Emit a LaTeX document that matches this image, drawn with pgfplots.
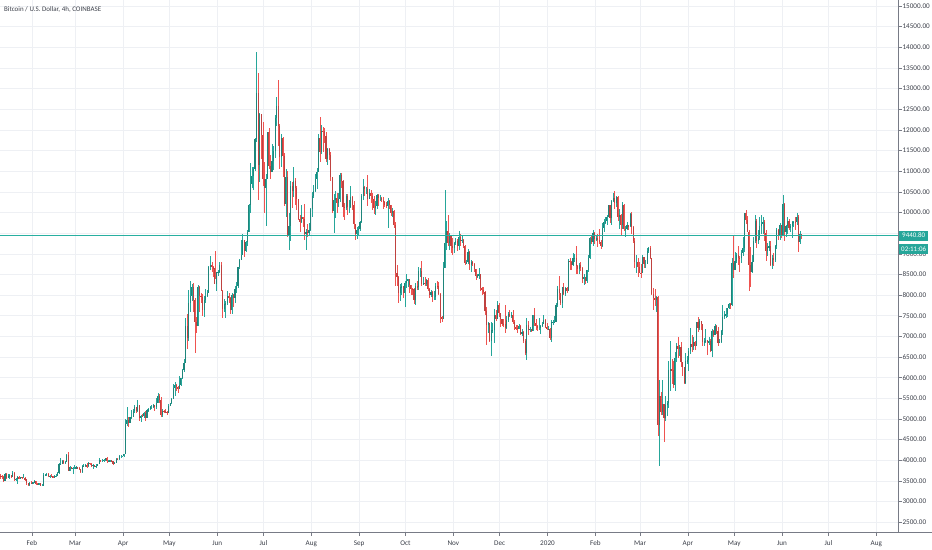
\documentclass[border=0pt]{standalone}
\usepackage{fontspec}
\setmainfont{Carlito}
\usepackage{pgfplots}
\usepackage{pgfplotstable}
\pgfplotsset{compat=1.18}
\definecolor{upc}{HTML}{26A69A}
\definecolor{dnc}{HTML}{EF5350}
\definecolor{gridc}{HTML}{EEF0F4}
\definecolor{axc}{HTML}{787B86}
\definecolor{txtc}{HTML}{3A3E48}
\definecolor{pricec}{HTML}{26A69A}
\definecolor{plinec}{RGB}{40,175,160}

\pgfplotstableread{
o h l c
3630 3680 3550 3625
3625 3640 3560 3600
3600 3615 3480 3500
3500 3700 3490 3665
3665 3690 3550 3570
3570 3680 3565 3610
3610 3660 3560 3640
3640 3645 3570 3600
3600 3740 3590 3700
3700 3720 3500 3540
3540 3580 3510 3560
3560 3620 3430 3590
3590 3620 3540 3560
3560 3600 3540 3590
3590 3600 3540 3580
3580 3660 3570 3580
3580 3600 3510 3540
3540 3545 3400 3440
3440 3450 3370 3400
3400 3480 3390 3460
3460 3490 3430 3440
3440 3480 3420 3465
3465 3515 3440 3500
3500 3505 3400 3420
3420 3440 3400 3410
3410 3450 3400 3440
3440 3450 3370 3390
3390 3420 3380 3390
3390 3700 3380 3650
3650 3670 3630 3655
3655 3690 3610 3680
3680 3685 3600 3620
3620 3640 3580 3625
3625 3660 3590 3610
3610 3620 3570 3590
3590 3650 3590 3610
3610 3660 3600 3630
3630 3720 3610 3690
3690 3930 3680 3900
3900 4050 3880 3920
3920 4000 3900 3990
3990 4000 3900 3940
3940 3990 3920 3970
3970 4160 3960 4120
4120 4200 3740 3750
3750 3860 3740 3830
3830 3840 3780 3810
3810 3840 3680 3820
3820 3890 3800 3820
3820 3870 3810 3830
3830 3840 3780 3820
3820 3830 3760 3790
3790 3800 3700 3710
3710 3880 3700 3860
3860 3900 3830 3870
3870 3910 3850 3880
3880 3940 3820 3860
3860 3950 3850 3940
3940 3945 3890 3920
3920 3930 3830 3870
3870 3900 3800 3880
3880 3890 3840 3860
3860 3920 3820 3870
3870 3920 3860 3910
3910 4050 3900 4020
4020 4020 3960 3990
3990 4040 3960 3990
3990 4030 3970 4020
4020 4060 3990 4050
4050 4070 3940 3980
3980 4000 3960 3990
3990 4010 3980 4000
4000 4000 3960 3980
3980 3990 3880 3920
3920 3950 3900 3940
3940 4060 3930 4040
4040 4050 4010 4030
4030 4120 4020 4100
4100 4130 4060 4100
4100 4110 4090 4100
4100 4160 4080 4150
4150 5000 4150 4880
4880 5300 4830 4970
4970 5060 4800 4910
4910 5060 4900 5040
5040 5230 5000 5060
5060 5250 5050 5200
5200 5340 5150 5290
5290 5300 5150 5200
5200 5470 5170 5330
5330 5350 4950 5020
5020 5100 4920 5080
5080 5120 5040 5070
5070 5170 5030 5150
5150 5190 4960 5030
5030 5240 5020 5210
5210 5270 5180 5240
5240 5320 5230 5290
5290 5350 5240 5290
5290 5360 5270 5330
5330 5350 5190 5290
5290 5500 5250 5400
5400 5630 5380 5550
5550 5600 5400 5450
5450 5530 5050 5100
5100 5250 5060 5200
5200 5230 5150 5190
5190 5240 5150 5170
5170 5200 5100 5150
5150 5360 5140 5320
5320 5390 5310 5380
5380 5510 5370 5490
5490 5850 5480 5750
5750 5900 5550 5830
5830 5850 5680 5770
5770 5800 5640 5730
5730 6050 5720 5830
5830 6000 5810 5990
5990 6200 5980 6180
6180 6450 6130 6350
6350 7450 6350 7250
7250 7550 6700 6960
6960 8130 6880 7800
7800 8330 7600 7980
7980 8270 7860 8200
8200 8290 7600 7880
7880 7940 6600 7350
7350 7460 7080 7260
7260 8250 7250 8200
8200 8210 7580 7990
7990 8040 7800 7950
7950 8030 7500 7630
7630 7970 7480 7880
7880 8150 7800 7990
7990 8130 7950 8060
8060 8700 8040 8690
8690 8940 8600 8740
8740 8800 8560 8670
8670 8700 8450 8660
8660 9080 8400 8270
8270 8570 8100 8550
8550 8620 8470 8560
8560 8790 8530 8730
8730 8810 8100 8110
8110 8120 7450 7670
7670 7900 7580 7790
7790 7860 7450 7800
7800 8100 7750 7990
7990 8040 7820 7930
7930 7950 7550 7630
7630 8060 7540 8010
8010 8020 7720 7920
7920 8230 7820 8150
8150 8320 8040 8230
8230 8690 8170 8690
8690 8870 8640 8850
8850 9330 8850 8970
8970 9470 8960 9330
9330 9340 8930 9080
9080 9300 9050 9280
9280 9580 9200 9530
9530 10200 9530 10190
10190 11200 10000 10700
10700 11100 10600 10880
10880 11100 10550 11050
11050 11800 11000 11780
11780 13880 11700 12900
12900 13380 10300 11140
11140 12400 10750 12380
12380 12380 11300 11880
11880 12200 10650 10800
10800 11230 9990 10590
10590 10940 9680 10800
10800 11950 10800 11950
11950 12050 11060 11130
11130 11400 10800 10980
10980 11650 10980 11250
11250 11600 11020 11480
11480 12350 11330 12300
12300 12800 12100 12570
12570 13200 11600 12100
12100 12150 11050 11350
11350 11900 11100 11800
11800 11830 10850 11380
11380 11450 10150 10200
10200 11050 9880 10860
10860 11000 9400 9420
9420 9990 9100 9680
9680 10770 9300 10640
10640 10750 10100 10530
10530 11100 10370 10760
10760 10830 10170 10590
10590 10650 10070 10330
10330 10330 9830 9850
9850 9930 9540 9780
9780 10190 9740 9880
9880 9900 9650 9850
9850 10200 9340 9480
9480 9600 9100 9540
9540 9720 9400 9510
9510 9740 9420 9580
9580 10110 9560 10080
10080 10500 9880 10400
10400 10670 10350 10530
10530 10930 10500 10820
10820 11080 10580 10980
10980 11900 10970 11800
11800 12320 11230 11470
11470 12130 11420 11980
11980 12060 11460 11970
11970 12050 11690 11860
11860 11950 11230 11290
11290 11560 11140 11540
11540 11570 11260 11390
11390 11470 10770 10850
10850 10870 10000 10030
10030 10440 9500 10300
10300 10520 9860 10360
10360 10470 9990 10220
10220 10480 10140 10320
10320 10950 10250 10920
10920 10950 10600 10760
10760 10790 9900 10130
10130 10240 9820 10120
10120 10440 10060 10400
10400 10440 9940 10140
10140 10300 10000 10140
10140 10650 10120 10370
10370 10400 10070 10180
10180 10280 9610 9720
9720 9730 9330 9490
9490 9650 9350 9580
9580 9680 9430 9600
9600 9800 9550 9760
9760 10440 9750 10390
10390 10800 10300 10620
10620 10650 10400 10580
10580 10620 10460 10580
10580 10920 10150 10320
10320 10570 10320 10480
10480 10540 10230 10390
10390 10480 10050 10320
10320 10390 9970 10100
10100 10290 9950 10160
10160 10450 10080 10420
10420 10440 10160 10360
10360 10420 10290 10360
10360 10380 10260 10310
10310 10380 10080 10260
10260 10280 10140 10190
10190 10260 10110 10160
10160 10350 9620 10280
10280 10300 10080 10170
10170 10190 9920 9990
9990 10100 9900 10030
10030 10060 9630 9700
9700 9780 8220 8530
8530 8730 8230 8430
8430 8460 7800 8060
8060 8270 7850 8190
8190 8300 8000 8210
8210 8220 7920 8040
8040 8340 7720 8300
8300 8500 8180 8340
8340 8400 8200 8390
8390 8400 8060 8240
8240 8250 8010 8160
8160 8170 8000 8150
8150 8180 7780 7870
7870 8300 7760 8210
8210 8330 8120 8190
8190 8680 8120 8590
8590 8650 8450 8590
8590 8820 8220 8260
8260 8430 8260 8300
8300 8450 8230 8280
8280 8400 8230 8370
8370 8420 8110 8160
8160 8180 7940 8000
8000 8120 7960 8080
8080 8100 7840 7960
7960 8100 7880 7960
7960 8290 7880 8230
8230 8330 8160 8220
8220 8310 8000 8030
8030 8050 7330 7470
7470 7500 7360 7430
7430 8800 7420 8660
8660 10540 8660 9260
9260 9800 9100 9550
9550 9950 9200 9250
9250 9500 9090 9430
9430 9440 9010 9180
9180 9390 8960 9150
9150 9290 9030 9250
9250 9390 9210 9300
9300 9370 9080 9200
9200 9550 9100 9400
9400 9470 9180 9320
9320 9420 9250 9340
9340 9370 9150 9200
9200 9220 8720 8770
8770 8850 8770 8800
8800 9120 8760 9040
9040 9060 8600 8720
8720 8860 8560 8810
8810 8830 8700 8760
8760 8780 8570 8630
8630 8640 8370 8460
8460 8520 8420 8480
8480 8650 8400 8500
8500 8510 8090 8170
8170 8200 8000 8120
8120 8200 8030 8080
8080 8110 7520 7620
7620 7710 6800 7280
7280 7360 7090 7320
7320 7330 6870 6900
6900 7350 6520 7150
7150 7330 7080 7160
7160 7660 6850 7520
7520 7640 7370 7430
7430 7860 7410 7750
7750 7810 7470 7560
7560 7560 7230 7410
7410 7430 7250 7310
7310 7420 7240 7300
7300 7750 7080 7200
7200 7490 7170 7400
7400 7580 7360 7540
7540 7630 7480 7510
7510 7590 7450 7530
7530 7630 7310 7350
7350 7400 7160 7220
7220 7280 7150 7200
7200 7270 7080 7190
7190 7300 7180 7250
7250 7270 7030 7070
7070 7190 7020 7110
7110 7130 6850 6880
6880 6940 6560 6610
6610 7440 6430 7280
7280 7370 7040 7150
7150 7220 7100 7190
7190 7190 7110 7140
7140 7520 7130 7510
7510 7690 7260 7320
7320 7420 7160 7250
7250 7270 7140 7200
7200 7440 7160 7200
7200 7270 7060 7250
7250 7360 7240 7310
7310 7520 7300 7390
7390 7420 7200 7220
7220 7330 7150 7170
7170 7250 7150 7180
7180 7200 6920 6950
6950 7400 6860 7340
7340 7400 7280 7350
7350 7500 7330 7360
7360 7800 7360 7760
7760 8210 7720 8150
8150 8460 7870 8050
8050 8050 7760 7820
7820 8200 7680 8190
8190 8290 8000 8020
8020 8190 7980 8180
8180 8190 8060 8110
8110 8880 8100 8820
8820 8900 8600 8810
8810 8820 8610 8720
8720 9010 8700 8900
8900 9000 8800 8910
8910 9200 8500 8700
8700 8730 8520 8630
8630 8770 8500 8740
8740 8800 8580 8660
8660 8670 8300 8390
8390 8520 8240 8430
8430 8440 8270 8340
8340 8600 8300 8600
8600 8980 8570 8900
8900 9400 8880 9390
9390 9430 9230 9290
9290 9570 9200 9500
9500 9520 9230 9350
9350 9440 9310 9390
9390 9470 9170 9340
9340 9600 9230 9290
9290 9340 9110 9180
9180 9750 9170 9620
9620 9850 9540 9760
9760 9880 9720 9800
9800 9950 9690 9900
9900 10170 9880 10170
10170 10180 9740 9860
9860 10300 9700 10270
10270 10480 10250 10360
10360 10520 10090 10240
10240 10400 10130 10370
10370 10390 9800 9900
9900 10080 9600 9930
9930 9960 9450 9700
9700 10250 9600 10180
10180 10200 9560 9600
9600 9670 9400 9610
9610 9780 9570 9690
9690 9700 9570 9670
9670 9990 9650 9960
9960 10020 9480 9660
9660 9670 9270 9310
9310 9380 8650 8790
8790 8970 8540 8790
8790 8890 8440 8680
8680 8800 8530 8540
8540 8750 8420 8530
8530 8970 8530 8920
8920 8920 8660 8760
8760 8850 8660 8760
8760 9150 8760 9070
9070 9170 9010 9150
9150 9200 8870 8900
8900 8900 8000 8030
8030 8180 7630 7940
7940 8150 7740 7890
7890 7970 7590 7950
7950 7970 4600 4850
4850 5950 3858 5560
5560 5650 5100 5170
5170 5950 5100 5360
5360 5370 4440 5020
5020 5560 4960 5330
5330 5430 5070 5400
5400 6400 5260 6180
6180 6900 5670 6200
6200 6450 5860 6190
6190 6400 5750 5830
5830 6620 5690 6480
6480 6850 6380 6770
6770 6980 6480 6690
6690 6790 6530 6740
6740 6870 6260 6370
6370 6380 6030 6260
6260 6270 5860 5880
5880 6600 5860 6400
6400 6520 6330 6420
6420 6710 6160 6640
6640 7200 6580 6810
6810 7040 6630 6740
6740 6990 6680 6860
6860 6880 6680 6770
6770 7360 6770 7340
7340 7470 7100 7200
7200 7420 7160 7370
7370 7380 7150 7300
7300 7300 6770 6860
6860 6950 6780 6890
6890 7190 6830 6910
6910 6920 6560 6860
6860 6990 6800 6880
6880 6940 6620 6640
6640 7190 6500 7120
7120 7150 6990 7030
7030 7300 7030 7260
7260 7270 7060 7130
7130 7220 6780 6850
6850 6940 6830 6860
6860 7150 6850 7120
7120 7750 7040 7480
7480 7620 7410 7510
7510 7700 7450 7540
7540 7700 7480 7700
7700 7800 7660 7780
7780 7800 7660 7760
7760 8890 7740 8780
8780 9460 8420 8620
8620 9050 8620 8830
8830 9010 8770 8970
8970 9190 8720 8900
8900 8950 8550 8890
8890 9100 8780 9030
9030 9400 8940 9150
9150 9990 9050 9990
9990 10050 9720 9810
9810 9920 9530 9540
9540 9580 8100 8720
8720 9170 8200 8570
8570 8970 8530 8810
8810 9400 8800 9310
9310 9930 9260 9790
9790 9850 9130 9310
9310 9580 9240 9380
9380 9890 9340 9670
9670 9950 9480 9730
9730 9900 9470 9780
9780 9830 9300 9510
9510 9570 8830 9060
9060 9270 8950 9170
9170 9310 9080 9180
9180 9300 8700 8720
8720 8980 8640 8900
8900 9010 8700 8840
8840 9220 8810 9200
9200 9620 9110 9570
9570 9600 9340 9430
9430 9740 9330 9700
9700 9700 9380 9450
9450 10430 9420 10200
10200 10230 9300 9520
9520 9690 9400 9670
9670 9880 9470 9790
9790 9850 9580 9620
9620 9730 9530 9670
9670 9800 9380 9760
9760 9800 9640 9780
9780 9880 9580 9770
9770 9990 9690 9880
9880 9950 9050 9280
9280 9560 9240 9470
9470 9480 9350 9440
}\btc
\pgfplotstablecreatecol[expr={\pgfplotstablerow+10}]{d}\btc

\begin{document}
\begin{tikzpicture}
\useasboundingbox (0,0) rectangle (932bp,550bp);
\begin{axis}[
  at={(0,18bp)}, anchor=south west, scale only axis,
  width=898bp, height=532bp,
  xmin=10.27, xmax=592.1, ymin=2265, ymax=15145,
  axis x line*=bottom, axis y line*=right,
  axis line style={draw=axc, line width=0.6bp, -},
  tick align=outside, major tick length=4bp,
  tick style={draw=axc, line width=0.5bp},
  grid=major, major grid style={draw=gridc, line width=0.6bp},
  xtick={31,59,90,120,151,181,212,243,273,304,334,365,396,425,456,486,517,547,578},
  xticklabels={Feb,Mar,Apr,May,Jun,Jul,Aug,Sep,Oct,Nov,Dec,2020,Feb,Mar,Apr,May,Jun,Jul,Aug},
  ytick={2500,3000,...,15000},
  yticklabels={2500.00,3000.00,3500.00,4000.00,4500.00,5000.00,5500.00,6000.00,6500.00,7000.00,7500.00,8000.00,8500.00,9000.00,,10000.00,10500.00,11000.00,11500.00,12000.00,12500.00,13000.00,13500.00,14000.00,14500.00,15000.00},
  scaled y ticks=false,
  /pgf/number format/assume math mode=true,
  ticklabel style={font=\fontsize{7.2}{8}\selectfont, text=txtc},
  yticklabel style={anchor=west, xshift=-3bp},
  xticklabel style={yshift=-1bp},
  clip=false,
]
% wicks
\addplot[draw=none, mark=none, forget plot,
  restrict expr to domain={\thisrow{c}-\thisrow{o}}{0:100000},
  error bars/.cd, y dir=both, y explicit, error mark=none,
  error bar style={draw=upc, line width=0.45bp}]
  table[x expr=\thisrow{d}+0.5, y expr=0.5*(\thisrow{h}+\thisrow{l}), y error expr=0.5*(\thisrow{h}-\thisrow{l})] {\btc};
\addplot[draw=none, mark=none, forget plot,
  restrict expr to domain={\thisrow{o}-\thisrow{c}}{0.001:100000},
  error bars/.cd, y dir=both, y explicit, error mark=none,
  error bar style={draw=dnc, line width=0.45bp}]
  table[x expr=\thisrow{d}+0.5, y expr=0.5*(\thisrow{h}+\thisrow{l}), y error expr=0.5*(\thisrow{h}-\thisrow{l})] {\btc};
% bodies
\addplot[draw=none, mark=none, forget plot,
  restrict expr to domain={\thisrow{c}-\thisrow{o}}{0:100000},
  error bars/.cd, y dir=both, y explicit, error mark=none,
  error bar style={draw=upc!80!black, line width=1.1bp}]
  table[x expr=\thisrow{d}+0.5, y expr=0.5*(\thisrow{o}+\thisrow{c}), y error expr=0.5*abs(\thisrow{c}-\thisrow{o})] {\btc};
\addplot[draw=none, mark=none, forget plot,
  restrict expr to domain={\thisrow{o}-\thisrow{c}}{0.001:100000},
  error bars/.cd, y dir=both, y explicit, error mark=none,
  error bar style={draw=dnc!80!black, line width=1.1bp}]
  table[x expr=\thisrow{d}+0.5, y expr=0.5*(\thisrow{o}+\thisrow{c}), y error expr=0.5*abs(\thisrow{c}-\thisrow{o})] {\btc};
\coordinate (pl) at (axis cs:592.1,9440.8);
\coordinate (pl0) at (axis cs:10.27,9440.8);
\end{axis}
% last price line
\draw[draw=plinec, line width=1bp] (pl0) -- (pl);
\draw[axc, line width=0.6bp] (898bp,18bp) -- (932bp,18bp);
\node[anchor=west, inner sep=0pt, font=\fontsize{7}{8}\selectfont, text=txtc] at (4bp,540bp) {Bitcoin / U.S. Dollar, 4h, COINBASE};
\node[fill=pricec, text=white, inner sep=0pt, minimum width=29bp, minimum height=10bp, anchor=west, font=\fontsize{7}{8}\selectfont] at ([xshift=1bp]pl) {9440.80};
\node[fill=pricec, text=white, inner sep=0pt, minimum width=29bp, minimum height=10.5bp, anchor=west, font=\fontsize{7}{8}\selectfont] at ([xshift=1bp,yshift=-13.5bp]pl) {02:11:06};
\end{tikzpicture}
\end{document}
